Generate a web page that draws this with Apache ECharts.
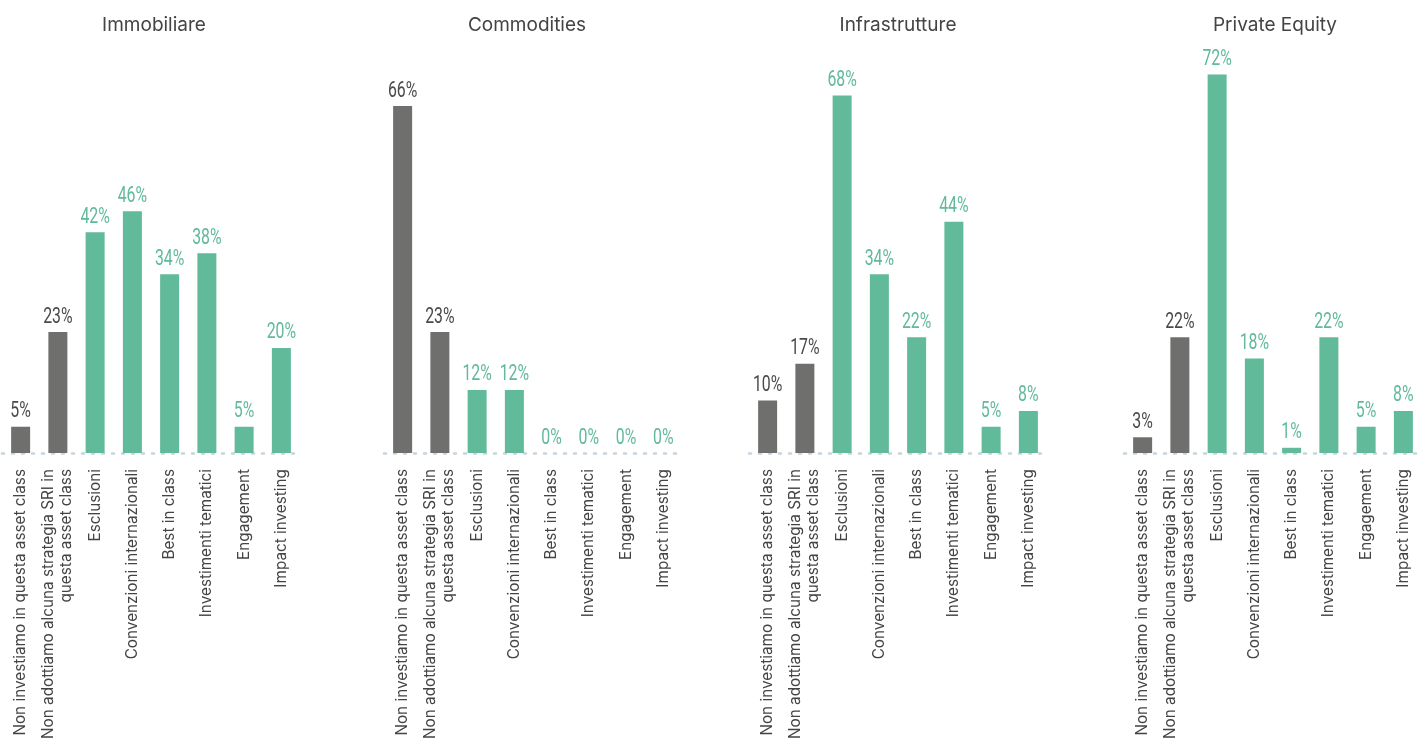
<!DOCTYPE html>
<html>
<head>
<meta charset="utf-8">
<style>
  html, body { margin: 0; padding: 0; background: #fff; }
  #chart { width: 1424px; height: 742px; }
</style>
<script src="https://cdn.jsdelivr.net/npm/echarts@6/dist/echarts.min.js"></script>
</head>
<body>
<div id="chart"></div>
<script>
// Strategy categories shared by all four asset classes
const categories = [
  'Non investiamo in questa asset class',
  'Non adottiamo alcuna strategia SRI in\nquesta asset class',
  'Esclusioni',
  'Convenzioni internazionali',
  'Best in class',
  'Investimenti tematici',
  'Engagement',
  'Impact investing'
];

const panelTitles = ['Immobiliare', 'Commodities', 'Infrastrutture', 'Private Equity'];

// Percent of respondents per strategy
const immobiliare    = [5, 23, 42, 46, 34, 38, 5, 20];
const commodities    = [66, 23, 12, 12, 0, 0, 0, 0];
const infrastrutture = [10, 17, 68, 34, 22, 44, 5, 8];
const privateEquity  = [3, 22, 72, 18, 1, 22, 5, 8];

const panelValues = [immobiliare, commodities, infrastrutture, privateEquity];

// Layout of each panel
const gridLefts = [2, 384, 749, 1124];
const titleCenters = [149, 522, 893, 1270];
const GRID_W = 298;

const GREY = '#6f6f6d';
const GREEN = '#61ba99';
const GREY_TEXT = '#4a4a4a';

const grids = [], xAxes = [], yAxes = [], series = [], titles = [];

// Value labels: narrow, tall figures drawn by squeezing the text horizontally
function renderValueLabel(params, api) {
  const idx = api.value(0);
  const val = api.value(1);
  const pt = api.coord([idx, val]);
  return {
    type: 'text',
    x: pt[0],
    y: pt[1] - 4,
    scaleX: 0.72,
    style: {
      text: val + '%',
      font: '400 22px Roboto, sans-serif',
      fill: idx < 2 ? GREY_TEXT : GREEN,
      align: 'center',
      verticalAlign: 'bottom'
    },
    silent: true
  };
}

panelValues.forEach((vals, i) => {
  grids.push({ left: gridLefts[i], width: GRID_W, top: 32.4, bottom: 288 });
  titles.push({
    text: panelTitles[i],
    left: titleCenters[i],
    top: 11,
    textAlign: 'center',
    textStyle: { fontFamily: 'Inter, sans-serif', fontSize: 19, fontWeight: 'normal', color: '#444' }
  });
  xAxes.push({
    type: 'category',
    gridIndex: i,
    data: categories,
    axisTick: { show: false },
    axisLine: {
      show: true,
      lineStyle: { color: '#c6d4de', width: 2.5, type: [2, 8], cap: 'round' }
    },
    axisLabel: {
      rotate: 90,
      interval: 0,
      margin: 16,
      fontFamily: 'Inter, sans-serif',
      fontSize: 15.3,
      lineHeight: 18,
      color: '#444'
    }
  });
  yAxes.push({
    type: 'value',
    gridIndex: i,
    min: 0,
    max: 80,
    show: false,
    splitLine: { show: false }
  });
  series.push({
    type: 'bar',
    xAxisIndex: i,
    yAxisIndex: i,
    barWidth: 19,
    data: vals.map((v, k) => ({
      value: v,
      itemStyle: { color: k < 2 ? GREY : GREEN }
    })),
    animation: false
  });
  series.push({
    type: 'custom',
    xAxisIndex: i,
    yAxisIndex: i,
    data: vals.map((v, k) => [k, v]),
    encode: { x: 0, y: 1 },
    renderItem: renderValueLabel,
    z: 5,
    animation: false
  });
});

const chart = echarts.init(document.getElementById('chart'));
chart.setOption({
  backgroundColor: '#fff',
  animation: false,
  title: titles,
  grid: grids,
  xAxis: xAxes,
  yAxis: yAxes,
  series: series
});
</script>
</body>
</html>
